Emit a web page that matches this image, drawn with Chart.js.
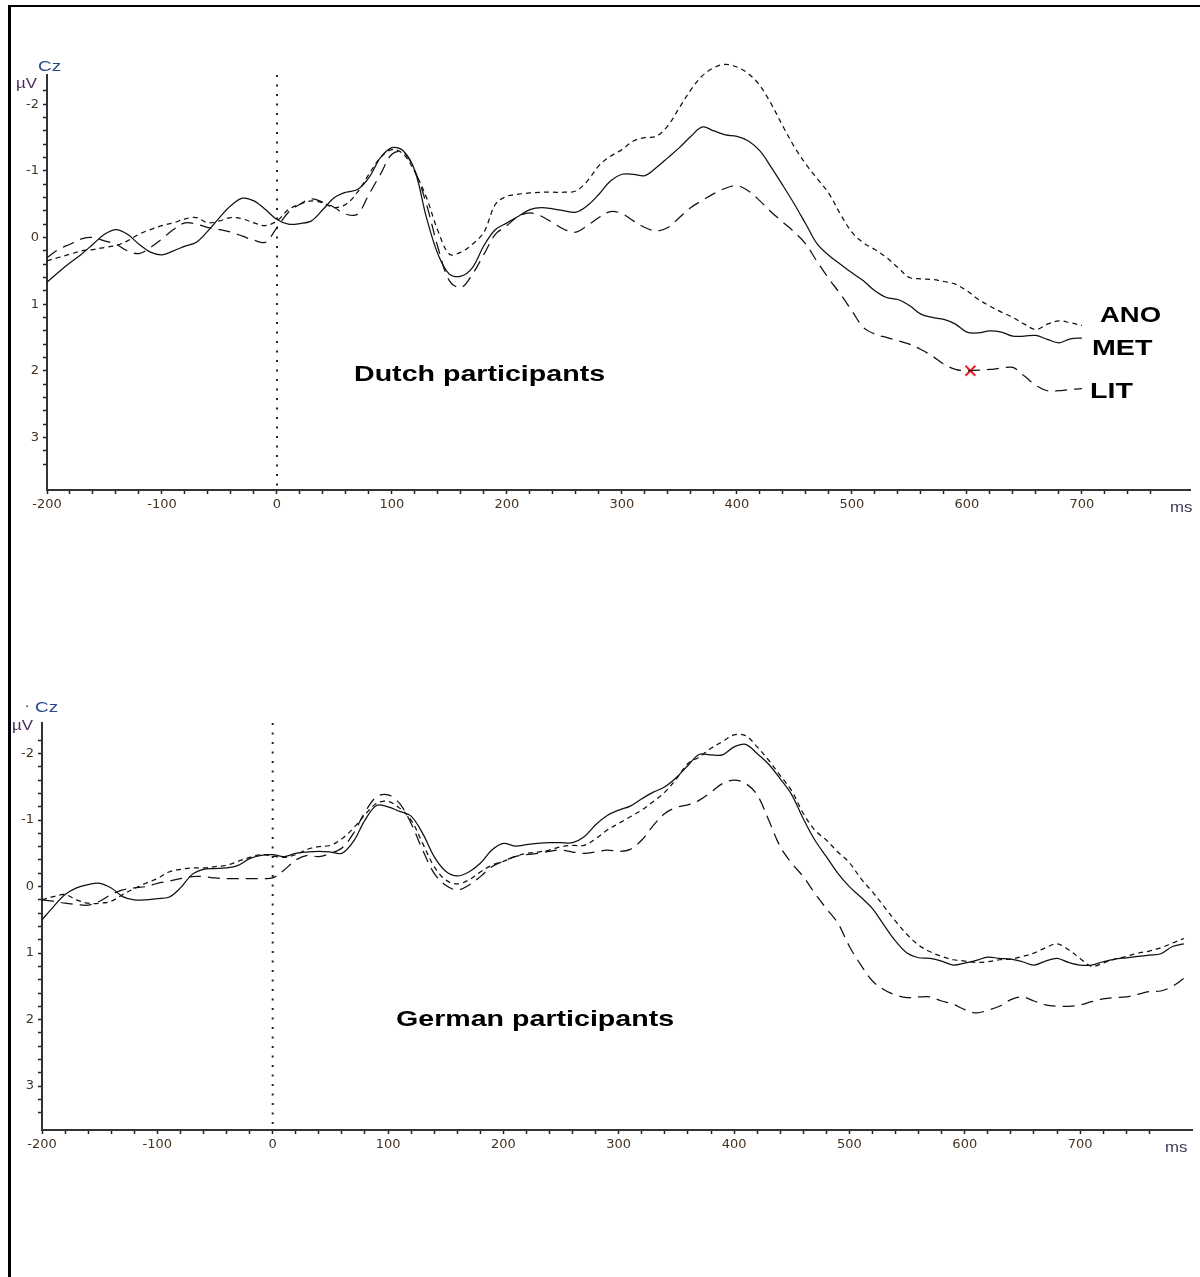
<!DOCTYPE html>
<html>
<head>
<meta charset="utf-8">
<script src="https://cdn.jsdelivr.net/npm/chart.js@4.4.0/dist/chart.umd.min.js"></script>
<style>
    body { margin: 0; background: #fff; }
    #page { position: relative; width: 1200px; height: 1277px; overflow: hidden; }
    .frame { position: absolute; left: 8px; top: 5px; width: 1192px; height: 1272px; border-top: 2px solid #000; border-left: 3px solid #000; }
    canvas { position: absolute; left: 0; }
</style>
</head>
<body>
<div id="page">
    <div class="frame"></div>
    <canvas id="dutchChart" width="1200" height="540" style="top:0"></canvas>
    <canvas id="germanChart" width="1200" height="540" style="top:640px"></canvas>
</div>
<script>
// sample times (ms)
const dutchTimes = [-200, -190, -180, -170, -160, -150, -140, -130, -120, -110,
    -100, -90, -80, -70, -60, -50, -40, -30, -20, -10,
    0, 10, 20, 30, 40, 50, 60, 70, 80, 90,
    100, 110, 120, 130, 140, 150, 160, 170, 180, 190,
    200, 210, 220, 230, 240, 250, 260, 270, 280, 290,
    300, 310, 320, 330, 340, 350, 360, 370, 380, 390,
    400, 410, 420, 430, 440, 450, 460, 470, 480, 490,
    500, 510, 520, 530, 540, 550, 560, 570, 580, 590,
    600, 610, 620, 630, 640, 650, 660, 670, 680, 690,
    700];
const germanTimes = [-200, -190, -180, -170, -160, -150, -140, -130, -120, -110,
    -100, -90, -80, -70, -60, -50, -40, -30, -20, -10,
    0, 10, 20, 30, 40, 50, 60, 70, 80, 90,
    100, 110, 120, 130, 140, 150, 160, 170, 180, 190,
    200, 210, 220, 230, 240, 250, 260, 270, 280, 290,
    300, 310, 320, 330, 340, 350, 360, 370, 380, 390,
    400, 410, 420, 430, 440, 450, 460, 470, 480, 490,
    500, 510, 520, 530, 540, 550, 560, 570, 580, 590,
    600, 610, 620, 630, 640, 650, 660, 670, 680, 690,
    700, 710, 720, 730, 740, 750, 760, 770, 780, 790];

// Dutch participants, Cz (µV)
const dutchMET = [0.67, 0.52, 0.38, 0.25, 0.1, -0.05, -0.12, -0.05, 0.1, 0.22,
    0.26, 0.2, 0.13, 0.07, -0.1, -0.3, -0.48, -0.59, -0.55, -0.42,
    -0.27, -0.2, -0.21, -0.25, -0.42, -0.6, -0.68, -0.72, -0.9, -1.2,
    -1.35, -1.3, -1.0, -0.3, 0.25, 0.55, 0.58, 0.45, 0.12, -0.12,
    -0.22, -0.32, -0.42, -0.45, -0.43, -0.4, -0.38, -0.48, -0.65, -0.85,
    -0.95, -0.95, -0.93, -1.05, -1.2, -1.35, -1.52, -1.66, -1.6, -1.54,
    -1.52, -1.45, -1.3, -1.05, -0.78, -0.5, -0.2, 0.1, 0.27, 0.4,
    0.53, 0.65, 0.8, 0.9, 0.93, 1.02, 1.15, 1.2, 1.23, 1.3,
    1.42, 1.43, 1.4, 1.42, 1.48, 1.48, 1.47, 1.53, 1.58, 1.52,
    1.51];
const dutchANO = [0.35, 0.3, 0.25, 0.2, 0.18, 0.15, 0.12, 0.05, -0.05, -0.12,
    -0.18, -0.22, -0.28, -0.3, -0.22, -0.25, -0.3, -0.28, -0.22, -0.18,
    -0.25, -0.42, -0.5, -0.55, -0.52, -0.45, -0.5, -0.68, -0.95, -1.2,
    -1.32, -1.25, -0.98, -0.6, -0.1, 0.25, 0.22, 0.1, -0.08, -0.5,
    -0.62, -0.65, -0.67, -0.68, -0.68, -0.68, -0.7, -0.85, -1.08, -1.22,
    -1.32, -1.45, -1.5, -1.52, -1.68, -1.95, -2.22, -2.43, -2.55, -2.6,
    -2.56, -2.46, -2.28, -2.0, -1.67, -1.36, -1.1, -0.88, -0.66, -0.35,
    -0.08, 0.08, 0.18, 0.3, 0.45, 0.6, 0.62, 0.63, 0.66, 0.7,
    0.8, 0.93, 1.03, 1.12, 1.2, 1.3, 1.38, 1.3, 1.25, 1.28,
    1.32];
const dutchLIT = [0.3, 0.18, 0.1, 0.02, 0.0, 0.05, 0.1, 0.2, 0.24, 0.15,
    0.02, -0.12, -0.22, -0.2, -0.15, -0.12, -0.08, -0.02, 0.04, 0.07,
    -0.15, -0.38, -0.5, -0.58, -0.53, -0.45, -0.35, -0.35, -0.65, -0.95,
    -1.25, -1.28, -1.0, -0.5, 0.15, 0.65, 0.75, 0.55, 0.25, -0.05,
    -0.18, -0.32, -0.37, -0.32, -0.22, -0.12, -0.08, -0.18, -0.3, -0.39,
    -0.36, -0.25, -0.15, -0.1, -0.15, -0.3, -0.45, -0.56, -0.66, -0.74,
    -0.78, -0.7, -0.55, -0.38, -0.23, -0.08, 0.1, 0.37, 0.62, 0.85,
    1.1, 1.35, 1.45, 1.5, 1.55, 1.6, 1.68, 1.78, 1.9, 1.98,
    2.0, 1.99, 1.98, 1.96, 1.95, 2.08, 2.22, 2.3, 2.3, 2.28,
    2.27];
const dutchMarker = [{ x: 603, y: 2.0 }];

// German participants, Cz (µV)
const germanMET = [0.5, 0.3, 0.12, 0.02, -0.03, -0.05, 0.02, 0.15, 0.2, 0.2,
    0.18, 0.16, 0.02, -0.18, -0.26, -0.27, -0.28, -0.32, -0.42, -0.47,
    -0.48, -0.45, -0.5, -0.52, -0.53, -0.52, -0.5, -0.68, -1.0, -1.22,
    -1.2, -1.13, -1.06, -0.8, -0.45, -0.23, -0.16, -0.22, -0.35, -0.55,
    -0.65, -0.61, -0.63, -0.65, -0.66, -0.66, -0.66, -0.75, -0.93, -1.07,
    -1.15, -1.21, -1.32, -1.42, -1.5, -1.64, -1.82, -1.99, -1.98, -1.98,
    -2.1, -2.14, -2.0, -1.84, -1.62, -1.38, -1.02, -0.7, -0.45, -0.2,
    0.0, 0.16, 0.33, 0.58, 0.82, 1.0, 1.07, 1.08, 1.12, 1.18,
    1.15, 1.11, 1.06, 1.08, 1.09, 1.13, 1.18, 1.12, 1.08, 1.14,
    1.18, 1.18, 1.13, 1.09, 1.07, 1.05, 1.03, 1.01, 0.9, 0.86];
const germanANO = [0.2, 0.15, 0.12, 0.2, 0.25, 0.25, 0.22, 0.12, 0.03, -0.05,
    -0.12, -0.22, -0.26, -0.28, -0.28, -0.3, -0.32, -0.38, -0.44, -0.48,
    -0.46, -0.44, -0.48, -0.56, -0.6, -0.62, -0.72, -0.88, -1.08, -1.25,
    -1.28, -1.18, -1.0, -0.65, -0.3, -0.1, -0.04, -0.1, -0.22, -0.32,
    -0.38, -0.45, -0.5, -0.52, -0.55, -0.6, -0.62, -0.62, -0.72, -0.85,
    -0.95, -1.05, -1.15, -1.28, -1.42, -1.62, -1.85, -1.95, -2.08, -2.18,
    -2.28, -2.27, -2.1, -1.9, -1.67, -1.44, -1.1, -0.85, -0.7, -0.52,
    -0.36, -0.12, 0.08, 0.3, 0.52, 0.72, 0.88, 0.98, 1.05, 1.1,
    1.12, 1.14, 1.13, 1.1, 1.09, 1.05, 1.0, 0.92, 0.86, 0.95,
    1.08, 1.2, 1.15, 1.09, 1.05, 1.0, 0.97, 0.92, 0.85, 0.78];
const germanLIT = [0.2, 0.22, 0.25, 0.27, 0.28, 0.22, 0.12, 0.05, 0.02, 0.0,
    -0.05, -0.08, -0.12, -0.15, -0.15, -0.13, -0.12, -0.12, -0.12, -0.12,
    -0.13, -0.25, -0.4, -0.47, -0.45, -0.5, -0.58, -0.8, -1.12, -1.35,
    -1.38, -1.25, -0.95, -0.55, -0.2, -0.02, 0.05, -0.02, -0.15, -0.3,
    -0.38, -0.45, -0.48, -0.5, -0.53, -0.55, -0.52, -0.5, -0.52, -0.55,
    -0.53, -0.56, -0.7, -0.92, -1.1, -1.19, -1.23, -1.3, -1.42, -1.55,
    -1.6, -1.55, -1.38, -1.0, -0.6, -0.35, -0.15, 0.1, 0.33, 0.55,
    0.9, 1.18, 1.42, 1.55, 1.63, 1.67, 1.66, 1.66, 1.72, 1.77,
    1.85, 1.9, 1.86, 1.8, 1.7, 1.66, 1.72, 1.78, 1.8, 1.8,
    1.78, 1.73, 1.69, 1.67, 1.66, 1.62, 1.58, 1.57, 1.5, 1.38];

const TICK_COLOR = '#443322';
const TICK_FONT = { family: 'DejaVu Sans', size: 13 };

// draws free text (labels, axis units); sx stretches text horizontally
function textPlugin(items) {
    return {
        id: 'panelText',
        afterDraw(chart) {
            const ctx = chart.ctx;
            items.forEach(it => {
                ctx.save();
                ctx.font = it.font;
                ctx.fillStyle = it.color || '#000';
                ctx.textBaseline = 'alphabetic';
                ctx.translate(it.x, it.y);
                ctx.scale(it.sx || 1.35, 1);
                ctx.fillText(it.text, 0, 0);
                ctx.restore();
            });
        }
    };
}

function buildChart(id, cfg) {
    const ctx = document.getElementById(id).getContext('2d');
    const line = (label, values, dash) => ({
        type: 'line', label,
        data: cfg.times.map((t, i) => ({ x: t, y: values[i] })),
        borderColor: '#111', borderWidth: 1.25, borderDash: dash,
        pointRadius: 0, tension: 0.35, fill: false, clip: false
    });
    const datasets = [
        line('MET', cfg.met, []),
        line('ANO', cfg.ano, [5, 4]),
        line('LIT', cfg.lit, [12, 7]),
        { type: 'line', label: 'onset', data: [{ x: 0, y: cfg.yMin }, { x: 0, y: cfg.yMax }],
          borderColor: '#222', borderWidth: 2, borderDash: [2, 7.5], pointRadius: 0 }
    ];
    if (cfg.marker) {
        datasets.push({ type: 'scatter', label: 'marker', data: cfg.marker, showLine: false,
            pointStyle: 'crossRot', pointRadius: 7, borderColor: '#e8202a', borderWidth: 2 });
    }
    const tickGrid = { drawOnChartArea: false, drawTicks: true, tickLength: 4, tickColor: '#222', tickWidth: 1.5 };
    const axisBorder = { display: true, color: '#333', width: 2 };
    return new Chart(ctx, {
        data: { datasets },
        options: {
            responsive: false, animation: false,
            layout: { padding: cfg.padding },
            plugins: { legend: { display: false }, tooltip: { enabled: false } },
            scales: {
                x: {
                    type: 'linear', min: cfg.xMin, max: cfg.xMax,
                    afterFit: s => { s.height = 30; },
                    afterBuildTicks: s => { s.ticks = s.ticks.filter(t => Math.abs(t.value / 20 - Math.round(t.value / 20)) < 1e-6); },
                    ticks: { stepSize: 20, autoSkip: false, maxRotation: 0, padding: 3, color: TICK_COLOR, font: TICK_FONT,
                        callback: v => (Math.round(v) % 100 === 0 && v <= 700) ? String(Math.round(v)) : '' },
                    grid: tickGrid, border: axisBorder
                },
                y: {
                    type: 'linear', reverse: true, min: cfg.yMin, max: cfg.yMax,
                    afterFit: s => { s.width = 40; },
                    afterBuildTicks: s => { s.ticks = s.ticks.filter(t => Math.abs(t.value * 5 - Math.round(t.value * 5)) < 1e-6); },
                    ticks: { stepSize: 0.2, autoSkip: false, padding: 4, color: TICK_COLOR, font: TICK_FONT,
                        callback: v => Math.abs(v - Math.round(v)) < 1e-6 ? String(Math.round(v)) : '' },
                    grid: tickGrid, border: axisBorder
                }
            }
        },
        plugins: [textPlugin(cfg.texts)]
    });
}

const BIG = 'bold 22px "Liberation Sans", Arial, sans-serif';
const SMALL = '14px "Liberation Sans", Arial, sans-serif';

buildChart('dutchChart', {
    times: dutchTimes, met: dutchMET, ano: dutchANO, lit: dutchLIT, marker: dutchMarker,
    xMin: -200, xMax: 794, yMin: -2.44, yMax: 3.79,
    padding: { left: 7, right: 10, top: 75, bottom: 20 },
    texts: [
        { text: 'Cz', x: 38, y: 71, font: SMALL, color: '#2b4a8b' },
        { text: 'µV', x: 16, y: 88, font: SMALL, color: '#4b2b5b', sx: 1.2 },
        { text: 'ms', x: 1170, y: 512, font: '14px "Liberation Sans", Arial, sans-serif', color: '#3a3a5a', sx: 1.2 },
        { text: 'Dutch participants', x: 354, y: 381, font: BIG, sx: 1.3 },
        { text: 'ANO', x: 1100, y: 322, font: BIG, sx: 1.25 },
        { text: 'MET', x: 1092, y: 355, font: BIG, sx: 1.3 },
        { text: 'LIT', x: 1090, y: 398, font: BIG, sx: 1.3 }
    ]
});

buildChart('germanChart', {
    times: germanTimes, met: germanMET, ano: germanANO, lit: germanLIT,
    xMin: -200, xMax: 797, yMin: -2.46, yMax: 3.66,
    padding: { left: 2, right: 8, top: 83, bottom: 20 },
    texts: [
        { text: '·', x: 24, y: 70, font: SMALL, color: '#555' },
        { text: 'Cz', x: 35, y: 72, font: SMALL, color: '#2b4a8b' },
        { text: 'µV', x: 12, y: 90, font: SMALL, color: '#4b2b5b', sx: 1.2 },
        { text: 'ms', x: 1165, y: 512, font: '14px "Liberation Sans", Arial, sans-serif', color: '#3a3a5a', sx: 1.2 },
        { text: 'German participants', x: 396, y: 386, font: BIG, sx: 1.3 }
    ]
});
</script>
</body>
</html>
